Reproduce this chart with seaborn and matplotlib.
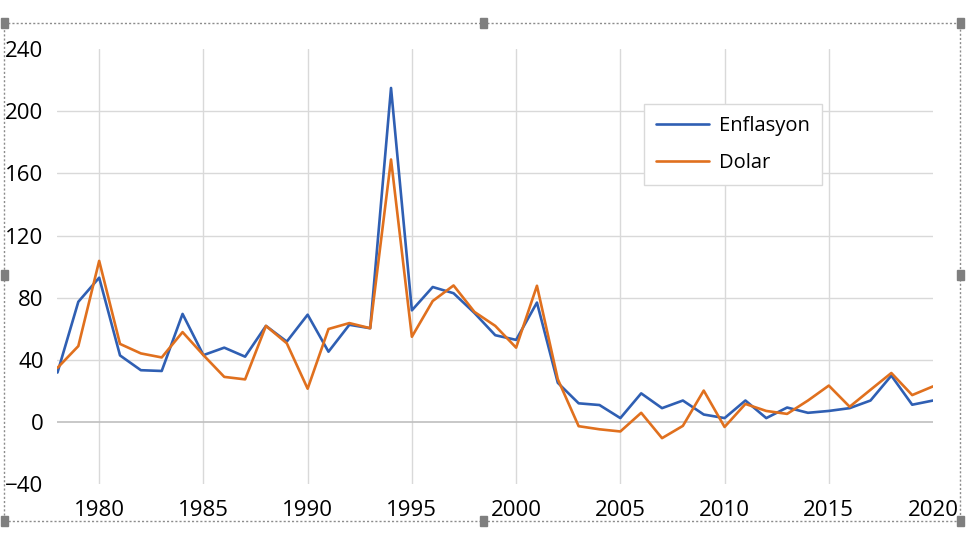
import numpy as np
import pandas as pd
import matplotlib
matplotlib.use("Agg")
import matplotlib.pyplot as plt
import seaborn as sns
from matplotlib.patches import Rectangle

years = list(range(1978, 2021))
enflasyon = [32, 77.5, 93, 43, 33.5, 33, 69.7, 43.2, 48, 42.2,
             62, 51.9, 69.2, 45.4, 62.7, 60.5, 215, 72, 87, 83,
             70.3, 56, 53, 77, 25.4, 12.2, 11.1, 2.7, 18.6, 9.1,
             14, 5, 2.7, 14, 2.7, 9.5, 6.1, 7.3, 9.1, 14,
             30, 11.3, 14]
dolar = [35, 49, 103.8, 50.4, 44.3, 41.7, 58, 43.2, 29.2, 27.6,
         62, 50.8, 21.6, 60, 63.8, 60.5, 169, 55, 78, 88,
         71, 62, 48, 87.8, 27.7, -2.5, -4.5, -5.9, 6.1, -10.2,
         -2.3, 20.4, -3, 11.8, 7.3, 5.4, 14, 23.6, 10, 20.9,
         31.7, 17.5, 23.1]
series_names = ["Enflasyon", "Dolar"]
colors = ["#2F5FB3", "#E0701E"]
y_ticks = [-40, 0, 40, 80, 120, 160, 200, 240]
x_ticks = [1980, 1985, 1990, 1995, 2000, 2005, 2010, 2015, 2020]

df = pd.DataFrame({
    "year": years * 2,
    "value": enflasyon + dolar,
    "series": [series_names[0]] * len(years) + [series_names[1]] * len(years),
})

sns.set_style("white")
plt.rcParams["font.family"] = ["Open Sans", "DejaVu Sans"]

fig = plt.figure(figsize=(9.71, 5.51), dpi=100)
ax = fig.add_axes([0.0592, 0.1207, 0.9017, 0.7902])

# gridlines by hand so the edges stay clean
for x in x_ticks[:-1]:
    ax.axvline(x, color="#D9D9D9", lw=1.0, zorder=0)
for y in y_ticks[2:-1]:
    ax.axhline(y, color="#D9D9D9", lw=1.0, zorder=0)
ax.axhline(0, color="#BFBFBF", lw=1.2, zorder=1)

sns.lineplot(data=df, x="year", y="value", hue="series", hue_order=series_names,
             palette=colors, lw=1.9, ax=ax)

ax.set_xlim(1978, 2020)
ax.set_ylim(-40, 240)
ax.set_xticks(x_ticks)
ax.set_yticks(y_ticks)
ax.set_xlabel("")
ax.set_ylabel("")
for s in ax.spines.values():
    s.set_visible(False)
ax.tick_params(axis="both", length=0, labelsize=16, colors="#000000")
ax.tick_params(axis="y", pad=10)
ax.tick_params(axis="x", pad=11)

leg = ax.legend(loc="upper left", bbox_to_anchor=(0.670, 0.873), borderaxespad=0,
                fontsize=14.5, handlelength=2.6, handletextpad=0.5,
                labelspacing=0.8, borderpad=0.6, fancybox=False,
                framealpha=1, edgecolor="#D9D9D9")
for line in leg.get_lines():
    line.set_linewidth(1.9)
for t in leg.get_texts():
    t.set_color("#000000")

# dotted selection frame with handles
W, H = 971.0, 551.0
fig.patches.append(Rectangle((4 / W, 1 - 521 / H), 956 / W, 498 / H,
                             transform=fig.transFigure, fill=False,
                             edgecolor="#8C8C8C", lw=1.0, ls=(0, (1.5, 1.5))))
for hx, hy in [(4, 23), (483, 23), (960, 23), (4, 275), (960, 275),
               (4, 521), (483, 521), (960, 521)]:
    fig.patches.append(Rectangle(((hx - 3.5) / W, 1 - (hy + 5) / H), 7 / W, 10 / H,
                                 transform=fig.transFigure, color="#7F7F7F"))

fig.savefig("out.png", dpi=100)
